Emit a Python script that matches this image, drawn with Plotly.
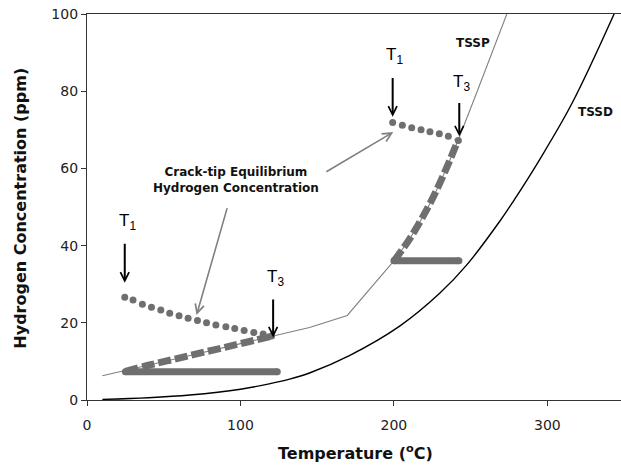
import plotly.graph_objects as go

# ---- data ----
tssp_lo_x = [10, 40, 70, 100, 121, 145, 169.6, 198.6]
tssp_lo_y = [6.3, 9.0, 11.8, 14.6, 16.6, 18.8, 21.9, 35.4]
tssp_hi_x = [198.6, 210.5, 223, 232, 242, 258, 273.6]
tssp_hi_y = [35.4, 41.9, 50.5, 58.0, 67.5, 83.8, 100]

tssd_x = [10, 40, 67, 100, 120, 132, 145, 171, 204, 230, 247.5, 269, 278, 295, 316, 343.5]
tssd_y = [0.15, 0.6, 1.3, 2.8, 4.3, 5.4, 7.0, 11.5, 19.2, 27.7, 35.0, 46.3, 51.6, 62.3, 76.8, 100]

dots1_x = [24.6, 30, 36.1, 42, 48.1, 53.9, 60, 65.9, 72, 77.9, 84, 90.5, 96.3, 102.4, 108.7, 114.8, 120.3]
dots1_y = [26.6, 25.9, 24.8, 24.0, 23.3, 22.5, 21.8, 21.2, 20.6, 20.0, 19.4, 19.0, 18.5, 18.0, 17.5, 17.1, 16.6]

dots2_x = [199.2, 205.5, 211.6, 217.7, 223.5, 229.6, 235.5, 242]
dots2_y = [71.9, 71.2, 70.5, 70.0, 69.5, 69.0, 68.3, 67.2]

dash1_x = [25, 40, 55, 70, 85, 100, 121]
dash1_y = [7.4, 9.0, 10.4, 11.8, 13.2, 14.6, 16.6]

dash2_x = [200, 210.5, 223, 232, 242]
dash2_y = [36.0, 41.9, 50.5, 58.0, 67.5]

flat1_x = [25, 124]
flat1_y = [7.3, 7.3]
flat2_x = [200, 242.4]
flat2_y = [36.1, 36.1]

x_ticks = [0, 100, 200, 300]
y_ticks = [0, 20, 40, 60, 80, 100]

GRAY = "#6f6f6f"

fig = go.Figure()

fig.add_trace(go.Scatter(x=tssp_lo_x, y=tssp_lo_y, mode="lines",
                         line=dict(color="#808080", width=1.1), hoverinfo="skip"))
fig.add_trace(go.Scatter(x=tssp_hi_x, y=tssp_hi_y, mode="lines",
                         line=dict(color="#808080", width=1.1, shape="spline", smoothing=1.0),
                         hoverinfo="skip"))
fig.add_trace(go.Scatter(x=tssd_x, y=tssd_y, mode="lines",
                         line=dict(color="black", width=1.4, shape="spline", smoothing=1.0),
                         hoverinfo="skip"))

for fx, fy in [(flat1_x, flat1_y), (flat2_x, flat2_y)]:
    fig.add_trace(go.Scatter(x=fx, y=fy, mode="lines+markers",
                             line=dict(color=GRAY, width=7),
                             marker=dict(color=GRAY, size=7, line=dict(width=0)),
                             hoverinfo="skip"))

for dx, dy in [(dash1_x, dash1_y), (dash2_x, dash2_y)]:
    fig.add_trace(go.Scatter(x=dx, y=dy, mode="lines",
                             line=dict(color=GRAY, width=7, dash="13px,4px",
                                       shape="spline", smoothing=1.0),
                             hoverinfo="skip"))

for px_, py_ in [(dots1_x, dots1_y), (dots2_x, dots2_y)]:
    fig.add_trace(go.Scatter(x=px_, y=py_, mode="markers",
                             marker=dict(color=GRAY, size=7, line=dict(width=0)),
                             hoverinfo="skip"))

annotations = []
# black arrows with T labels
arrows = [
    (24.6, 40.9, 30.4, "T<sub>1</sub>", 46.0),
    (121.3, 26.4, 16.2, "T<sub>3</sub>", 31.6),
    (199.2, 83.8, 73.4, "T<sub>1</sub>", 89.0),
    (242.6, 77.3, 68.3, "T<sub>3</sub>", 82.0),
]
for x, y0, y1, lab, ly in arrows:
    annotations.append(dict(x=x, y=y1, ax=x, ay=y0, xref="x", yref="y", axref="x", ayref="y",
                            showarrow=True, arrowhead=5, arrowsize=0.85, arrowwidth=2,
                            arrowcolor="black", text=""))
    annotations.append(dict(x=x + 1.5, y=ly, xref="x", yref="y", showarrow=False, text=lab,
                            font=dict(family="Liberation Sans, Arial", size=17, color="black"),
                            xanchor="center", yanchor="middle"))

# gray arrows
annotations.append(dict(x=71.4, y=22.0, ax=91.6, ay=50.1, xref="x", yref="y", axref="x", ayref="y",
                        showarrow=True, arrowhead=5, arrowsize=1.1, arrowwidth=1.6,
                        arrowcolor="#808080", text=""))
annotations.append(dict(x=199.6, y=69.4, ax=155, ay=58.9, xref="x", yref="y", axref="x", ayref="y",
                        showarrow=True, arrowhead=5, arrowsize=1.1, arrowwidth=1.6,
                        arrowcolor="#808080", text=""))

bold = dict(family="DejaVu Sans", size=12, color="#111111")
annotations.append(dict(x=97.3, y=56.9, xref="x", yref="y", showarrow=False,
                        text="<b>Crack-tip Equilibrium</b><br><b>Hydrogen Concentration</b>",
                        font=bold, align="center", xanchor="center", yanchor="middle"))
annotations.append(dict(x=251.3, y=92.5, xref="x", yref="y", showarrow=False,
                        text="<b>TSSP</b>", font=dict(family="DejaVu Sans", size=12, color="#111111"),
                        xanchor="center", yanchor="middle"))
annotations.append(dict(x=331.5, y=74.6, xref="x", yref="y", showarrow=False,
                        text="<b>TSSD</b>", font=dict(family="DejaVu Sans", size=12, color="#111111"),
                        xanchor="center", yanchor="middle"))

# axis titles as paper annotations for exact placement
title_font = dict(family="DejaVu Sans", size=16, color="#111")
annotations.append(dict(x=0.5035, y=-0.135, xref="paper", yref="paper", showarrow=False,
                        text="<b>Temperature (<sup>o</sup>C)</b>", font=title_font,
                        xanchor="center", yanchor="middle"))
annotations.append(dict(x=-0.1245, y=0.497, xref="paper", yref="paper", showarrow=False,
                        text="<b>Hydrogen Concentration (ppm)</b>", font=title_font,
                        textangle=-90, xanchor="center", yanchor="middle"))

fig.update_layout(
    width=621, height=466, autosize=False,
    margin=dict(l=87, r=0, t=14, b=66),
    paper_bgcolor="white", plot_bgcolor="white",
    showlegend=False,
    annotations=annotations,
    xaxis=dict(range=[0, 348], tickvals=x_ticks, ticks="outside", ticklen=5, tickcolor="#333",
               showline=True, linecolor="#333", linewidth=1.2, mirror=True, showgrid=False,
               zeroline=False, ticklabelstandoff=7,
               tickfont=dict(family="DejaVu Sans", size=14, color="#222")),
    yaxis=dict(range=[0, 100], tickvals=y_ticks, ticks="outside", ticklen=5, tickcolor="#333",
               showline=True, linecolor="#333", linewidth=1.2, showgrid=False,
               zeroline=False, tickfont=dict(family="DejaVu Sans", size=14, color="#222")),
)

fig.write_html("out.html")
